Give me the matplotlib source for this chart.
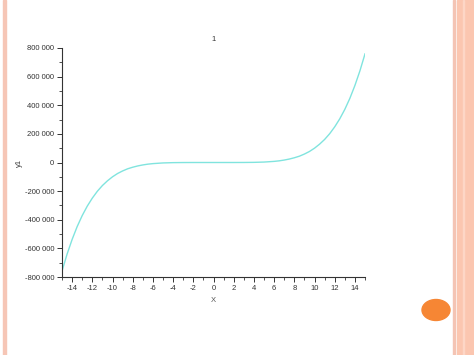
import matplotlib
matplotlib.use("Agg")
import matplotlib.pyplot as plt
from matplotlib.ticker import MultipleLocator, FuncFormatter
from matplotlib.patches import Rectangle, Circle

plt.rcParams["font.family"] = ["Liberation Sans", "DejaVu Sans"]
plt.rcParams["axes.unicode_minus"] = False

# values
x_vals = [-15, -14.5, -14, -13.5, -13, -12.5, -12, -11.5, -11, -10.5, -10, -9.5,
          -9, -8.5, -8, -7.5, -7, -6.5, -6, -5, -4, -3, -2, -1,
          0, 1, 2, 3, 4, 5, 6, 6.5, 7, 7.5, 8, 8.5, 9, 9.5, 10, 10.5,
          11, 11.5, 12, 12.5, 13, 13.5, 14, 14.5, 15]
y1_vals = [-759000, -641000, -538000, -448000, -371000, -305000, -249000, -201000,
           -161000, -128000, -100000, -77000, -59000, -44000, -33000, -24000,
           -17000, -11600, -7800, -3100, -1000, -240, -30, -1,
           0, 1, 30, 240, 1000, 3100, 7800, 11600, 17000, 24000, 33000, 44000,
           59000, 77000, 100000, 128000, 161000, 201000, 249000, 305000, 371000,
           448000, 538000, 641000, 759000]

title = "1"
x_label = "X"
y_label = "y1"

fig = plt.figure(figsize=(4.74, 3.55), dpi=100)

# slide decoration
fig.patches.append(Rectangle((3 / 474, 0), 3 / 474, 1, transform=fig.transFigure,
                             color="#f6c6b6", zorder=0))
fig.patches.append(Rectangle((453 / 474, 0), 2 / 474, 1, transform=fig.transFigure,
                             color="#f4c4b4", zorder=0))
fig.patches.append(Rectangle((457 / 474, 0), 17 / 474, 1, transform=fig.transFigure,
                             color="#fbc6b0", zorder=0))
fig.patches.append(Rectangle((463 / 474, 0), 1 / 474, 1, transform=fig.transFigure,
                             color="#fdd6c6", zorder=0))
fig.patches.append(Circle((436 / 474, 45 / 355), 14 / 474, transform=fig.transFigure,
                          color="#f68634", zorder=1))

ax = fig.add_axes([62 / 474, 78 / 355, 303 / 474, 229 / 355])
ax.plot(x_vals, y1_vals, color="#80e4de", lw=1.0)

ax.set_xlim(-15, 15)
ax.set_ylim(-800000, 800000)
ax.spines["top"].set_visible(False)
ax.spines["right"].set_visible(False)
for s in ["left", "bottom"]:
    ax.spines[s].set_color("#333333")
    ax.spines[s].set_linewidth(0.8)

ax.xaxis.set_major_locator(MultipleLocator(2))
ax.xaxis.set_minor_locator(MultipleLocator(1))
ax.yaxis.set_major_locator(MultipleLocator(200000))
ax.yaxis.set_minor_locator(MultipleLocator(100000))
ax.yaxis.set_major_formatter(FuncFormatter(lambda v, p: f"{v:,.0f}".replace(",", " ")))
ax.tick_params(which="major", length=3.5, width=0.7, color="#333333",
               labelsize=5.5, labelcolor="#333333", pad=2)
ax.tick_params(which="minor", length=2, width=0.6, color="#333333")

ax.set_title(title, fontsize=5.5, color="#333333", pad=5)
ax.set_xlabel(x_label, fontsize=5.5, color="#555555", labelpad=4)
ax.set_ylabel(y_label, fontsize=5.5, color="#333333", labelpad=1)

plt.savefig("out.png", dpi=100)
